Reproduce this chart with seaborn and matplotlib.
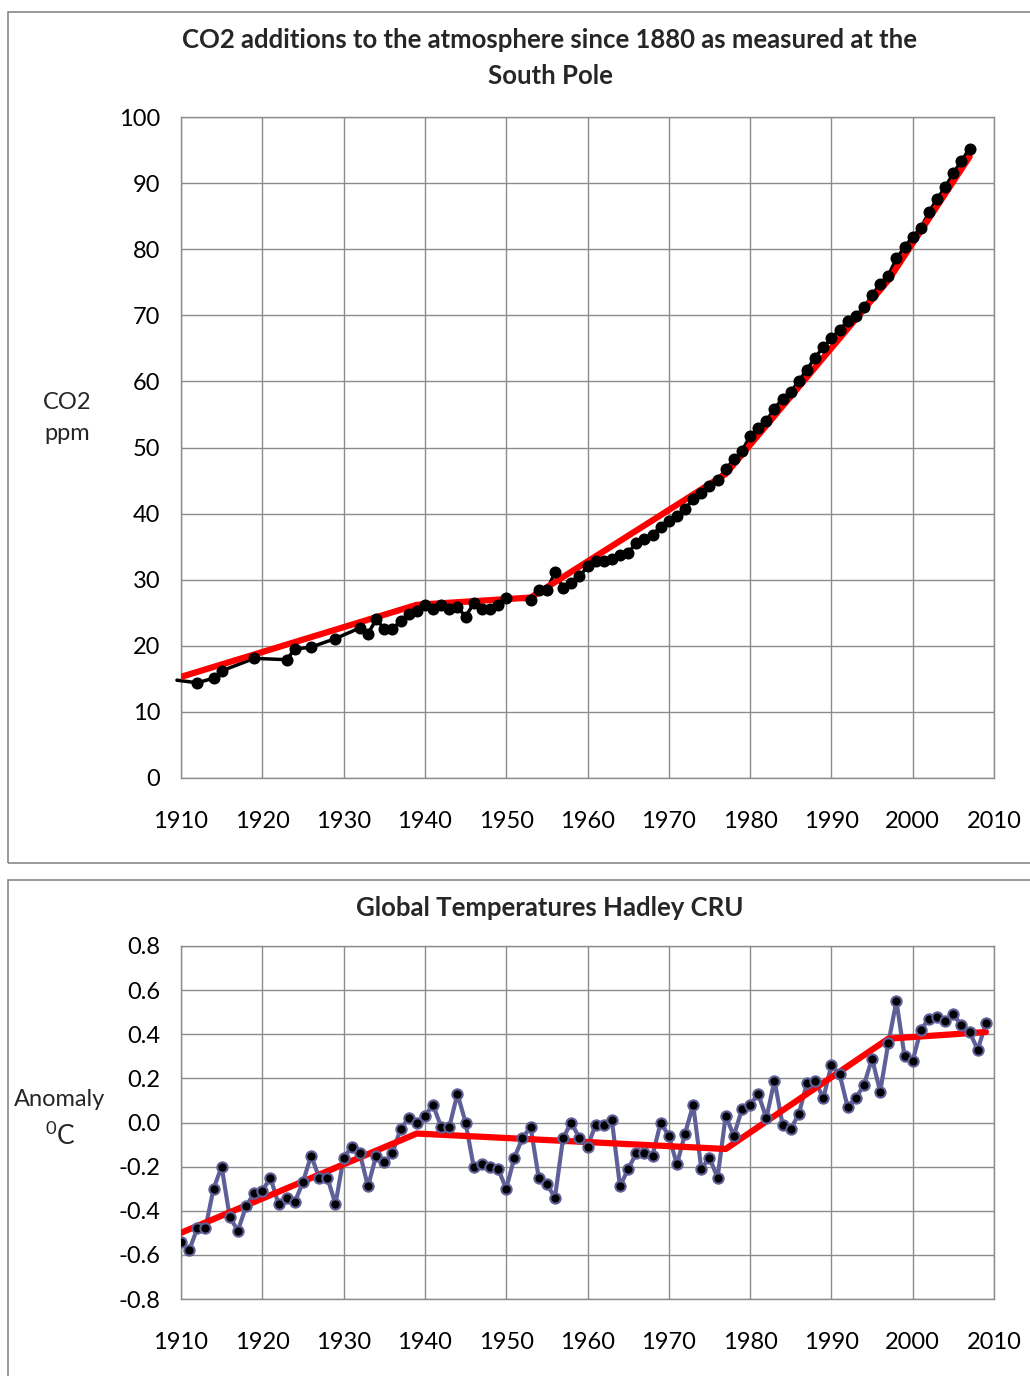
import matplotlib
matplotlib.use("Agg")
import matplotlib.pyplot as plt
import seaborn as sns
import pandas as pd
from matplotlib.patches import Rectangle

# CO2 additions at the South Pole (ppm above 1880)
co2_years = [1909.5, 1912, 1914, 1915, 1919, 1923, 1924, 1926, 1929, 1932, 1933, 1934,
             1935, 1936, 1937, 1938, 1939, 1940, 1941, 1942, 1943, 1944, 1945, 1946,
             1947, 1948, 1949, 1950, 1953, 1954, 1955, 1956, 1957, 1958, 1959, 1960,
             1961, 1962, 1963, 1964, 1965, 1966, 1967, 1968, 1969, 1970, 1971, 1972,
             1973, 1974, 1975, 1976, 1977, 1978, 1979, 1980, 1981, 1982, 1983, 1984,
             1985, 1986, 1987, 1988, 1989, 1990, 1991, 1992, 1993, 1994, 1995, 1996,
             1997, 1998, 1999, 2000, 2001, 2002, 2003, 2004, 2005, 2006, 2007]
co2_ppm = [14.8, 14.4, 15.1, 16.2, 18.1, 17.9, 19.5, 19.8, 21.1, 22.7, 21.8, 24.0,
           22.6, 22.6, 23.7, 24.8, 25.3, 26.1, 25.5, 26.1, 25.5, 25.9, 24.4, 26.4,
           25.5, 25.5, 26.1, 27.3, 26.9, 28.4, 28.4, 31.1, 28.8, 29.5, 30.5, 32.0,
           32.9, 32.9, 33.2, 33.7, 34.1, 35.5, 36.2, 36.8, 38.0, 38.9, 39.7, 40.7,
           42.2, 43.1, 44.1, 45.1, 46.7, 48.2, 49.5, 51.7, 53.0, 54.0, 55.9, 57.4,
           58.4, 60.1, 61.8, 63.6, 65.2, 66.5, 67.8, 69.1, 69.9, 71.2, 73.0, 74.8,
           76.0, 78.6, 80.3, 81.9, 83.2, 85.6, 87.6, 89.4, 91.5, 93.4, 95.2]
co2_fit_years = [1910, 1939, 1953, 1977, 1997, 2007]
co2_fit_ppm = [15.3, 26.2, 27.3, 46.0, 75.3, 94.0]

# Hadley CRU global temperature anomaly
temp_years = list(range(1910, 2010))
temp_anom = [-0.54, -0.58, -0.48, -0.48, -0.30, -0.20, -0.43, -0.49, -0.38, -0.32,
             -0.31, -0.25, -0.37, -0.34, -0.36, -0.27, -0.15, -0.25, -0.25, -0.37,
             -0.16, -0.11, -0.14, -0.29, -0.15, -0.18, -0.14, -0.03, 0.02, 0.00,
             0.03, 0.08, -0.02, -0.02, 0.13, 0.00, -0.20, -0.19, -0.20, -0.21,
             -0.30, -0.16, -0.07, -0.02, -0.25, -0.28, -0.34, -0.07, 0.00, -0.07,
             -0.11, -0.01, -0.01, 0.01, -0.29, -0.21, -0.14, -0.14, -0.15, 0.00,
             -0.06, -0.19, -0.05, 0.08, -0.21, -0.16, -0.25, 0.03, -0.06, 0.06,
             0.08, 0.13, 0.02, 0.19, -0.01, -0.03, 0.04, 0.18, 0.19, 0.11,
             0.26, 0.22, 0.07, 0.11, 0.17, 0.29, 0.14, 0.36, 0.55, 0.30,
             0.28, 0.42, 0.47, 0.48, 0.46, 0.49, 0.44, 0.41, 0.33, 0.45]
temp_fit_years = [1910, 1939, 1977, 1997, 2009]
temp_fit_anom = [-0.50, -0.05, -0.12, 0.38, 0.41]

x_ticks = list(range(1910, 2011, 10))
co2_ticks = list(range(0, 101, 10))
temp_ticks = [-0.8, -0.6, -0.4, -0.2, 0.0, 0.2, 0.4, 0.6, 0.8]

sns.set_style("white")
plt.rcParams["font.family"] = ["Lato", "DejaVu Sans"]
plt.rcParams["axes.unicode_minus"] = False
plt.rcParams["mathtext.fontset"] = "custom"
plt.rcParams["mathtext.rm"] = "Lato"

GRID = "#8c8c8c"
BLUE = "#606099"

co2 = pd.DataFrame({"year": co2_years, "ppm": co2_ppm})
co2_fit = pd.DataFrame({"year": co2_fit_years, "ppm": co2_fit_ppm})
temp = pd.DataFrame({"year": temp_years, "anom": temp_anom})
temp_fit = pd.DataFrame({"year": temp_fit_years, "anom": temp_fit_anom})

W, H = 1030, 1376
fig = plt.figure(figsize=(W / 100, H / 100), dpi=100)

# chart frames like the Excel chart areas
fig.patches.append(Rectangle((8 / W, 1 - 863 / H), 1.1, (863 - 12) / H,
                             transform=fig.transFigure, fill=False,
                             edgecolor="#888888", lw=1.2))
fig.patches.append(Rectangle((8 / W, -0.1), 1.1, 0.1 + 1 - 880 / H,
                             transform=fig.transFigure, fill=False,
                             edgecolor="#888888", lw=1.2))


def style_axes(ax, yticks, ylim, fmt):
    ax.set_xlim(1910, 2010)
    ax.set_ylim(*ylim)
    ax.set_xticks(x_ticks)
    ax.set_yticks(yticks)
    ax.set_yticklabels([fmt(v) for v in yticks])
    ax.grid(True, color=GRID, lw=1)
    for s in ax.spines.values():
        s.set_color(GRID)
        s.set_linewidth(1)
    ax.tick_params(axis="both", direction="out", length=7, width=1, color=GRID,
                   labelsize=17, colors="black")
    ax.tick_params(axis="x", pad=17)
    ax.tick_params(axis="y", pad=8)
    ax.set_xlabel("")
    ax.set_ylabel("")
    ax.set_axisbelow(True)


# top chart
ax1 = fig.add_axes([181 / W, 1 - 778 / H, 813 / W, 661 / H])
sns.lineplot(data=co2, x="year", y="ppm", ax=ax1, color="black", lw=2.5,
             clip_on=False, zorder=3)
sns.lineplot(data=co2_fit, x="year", y="ppm", ax=ax1, color="#ff0000", lw=4.5,
             zorder=4)
sns.scatterplot(data=co2.iloc[1:], x="year", y="ppm", ax=ax1, color="black",
                s=75, edgecolor="black", linewidth=0, zorder=5)
style_axes(ax1, co2_ticks, (0, 100), lambda v: f"{v:d}")

fig.text(550 / W, 1 - 58 / H,
         "CO2 additions to the atmosphere since 1880 as measured at the\nSouth Pole",
         ha="center", va="center", fontsize=18.5, fontweight="bold", linespacing=1.55)
fig.text(67 / W, 1 - 418 / H, "CO2\nppm", ha="center", va="center",
         fontsize=17, linespacing=1.6)

# bottom chart
ax2 = fig.add_axes([181 / W, 1 - 1299 / H, 813 / W, 353 / H])
sns.lineplot(data=temp, x="year", y="anom", ax=ax2, color=BLUE, lw=3, zorder=3)
sns.lineplot(data=temp_fit, x="year", y="anom", ax=ax2, color="#ff0000", lw=4.5,
             zorder=4)
sns.scatterplot(data=temp, x="year", y="anom", ax=ax2, color="black", s=55,
                edgecolor=BLUE, linewidth=1.5, zorder=5)
style_axes(ax2, temp_ticks, (-0.8, 0.8), lambda v: f"{v:.1f}")

fig.text(550 / W, 1 - 908 / H, "Global Temperatures Hadley CRU",
         ha="center", va="center", fontsize=18.5, fontweight="bold")
fig.text(60 / W, 1 - 1099 / H, "Anomaly", ha="center", va="center", fontsize=17)
fig.text(60 / W, 1 - 1136 / H, r"$^{0}$C", ha="center", va="center", fontsize=19)

fig.savefig("out.png", dpi=100)
